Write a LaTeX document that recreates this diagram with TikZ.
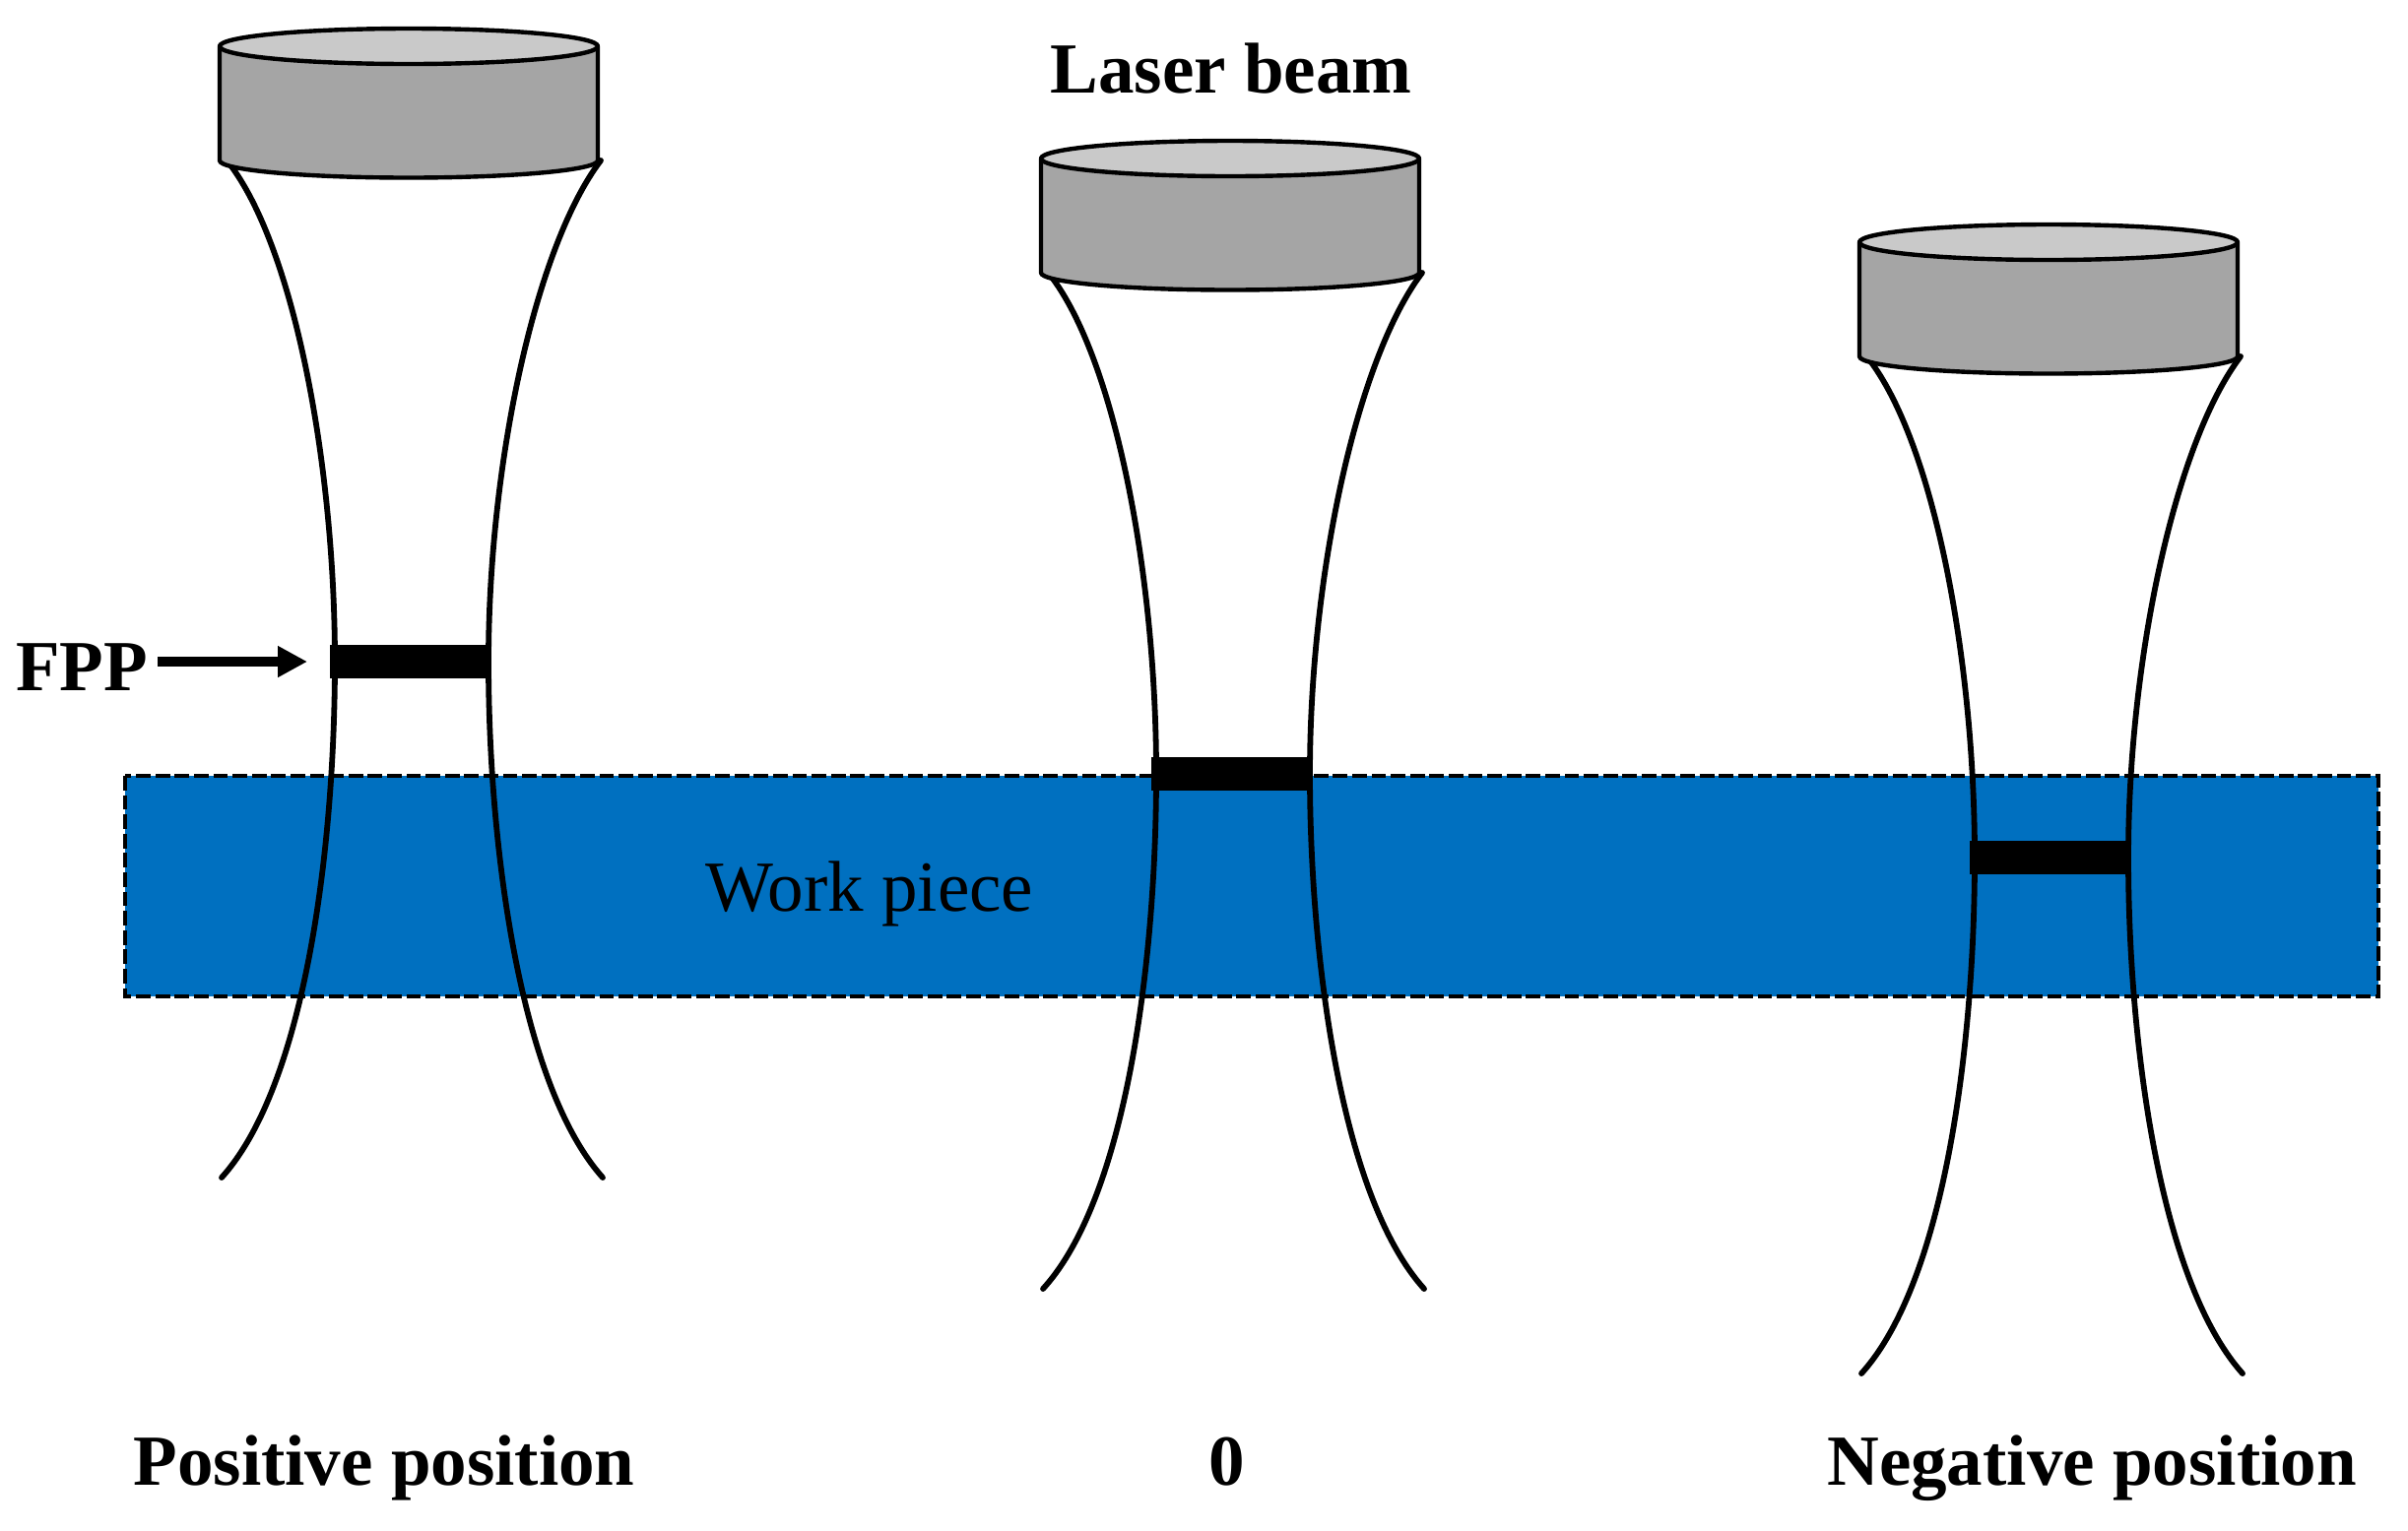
\documentclass[tikz,border=0pt]{standalone}
\usepackage{fontspec}
\setmainfont{Liberation Serif}
\usetikzlibrary{arrows.meta}
\definecolor{lensside}{HTML}{A5A5A5}
\definecolor{lenstop}{HTML}{C9C9C9}
\definecolor{workblue}{HTML}{0070C0}
\tikzset{
  beamline/.style={line width=2.9pt,line cap=round},
  lensline/.style={line width=2.2pt,line join=round},
  focus/.style={fill=black,draw=none,minimum width=80pt,minimum height=17pt,inner sep=0pt,outer sep=0pt},
  label/.style={font=\fontsize{36.5}{42}\selectfont\bfseries,inner sep=0pt,anchor=base},
  plain/.style={font=\fontsize{36.5}{42}\selectfont,inner sep=0pt,anchor=base}
}
\newcommand{\laserunit}[4]{%
  \begin{scope}[shift={(#1,#2)}]
    \draw[beamline] (232,165) .. controls (298,250) and (340,470) .. (340,672)
       .. controls (340,860) and (310,1102) .. (225,#4);
    \draw[beamline] (610,163) .. controls (544,250) and (496,470) .. (496,672)
       .. controls (496,860) and (528,1102) .. (612,#4);
    \draw[lensline,fill=lensside] (223,47) -- (223,163) arc[start angle=180,end angle=0,x radius=192,y radius=17.5] -- (607,47) -- cycle;
    \draw[lensline,fill=lenstop] (415,47) ellipse[x radius=192,y radius=18];
    \node[focus] (#3) at (415,672) {};
  \end{scope}}
\begin{document}
\begin{tikzpicture}[x=0.5pt,y=-0.5pt]
\useasboundingbox (0,0) rectangle (2445,1554);
\fill[white] (0,0) rectangle (2445,1554);
\draw[fill=workblue,line width=2pt,dash pattern=on 7.4pt off 2.4pt] (127,788) rectangle (2415,1012);
\laserunit{0}{0}{barA}{1196}
\laserunit{834}{114}{barB}{1195}
\laserunit{1665}{199}{barC}{1196}
\node[label] (fpp) at (83,701) {FPP};
\coordinate (arrowstart) at (160,672);
\coordinate (arrowend) at (312,672);
\draw[line width=5pt,-{Triangle[length=15pt,width=15pt]}] (arrowstart) -- (arrowend);
\node[label] (beam) at (1250,94) {Laser beam};
\node[plain] (work) at (883,925) {Work piece};
\node[label] (pos) at (390,1508) {Positive position};
\node[label] (zero) at (1246,1508) {0};
\node[label] (neg) at (2124,1508) {Negative position};
\end{tikzpicture}
\end{document}
